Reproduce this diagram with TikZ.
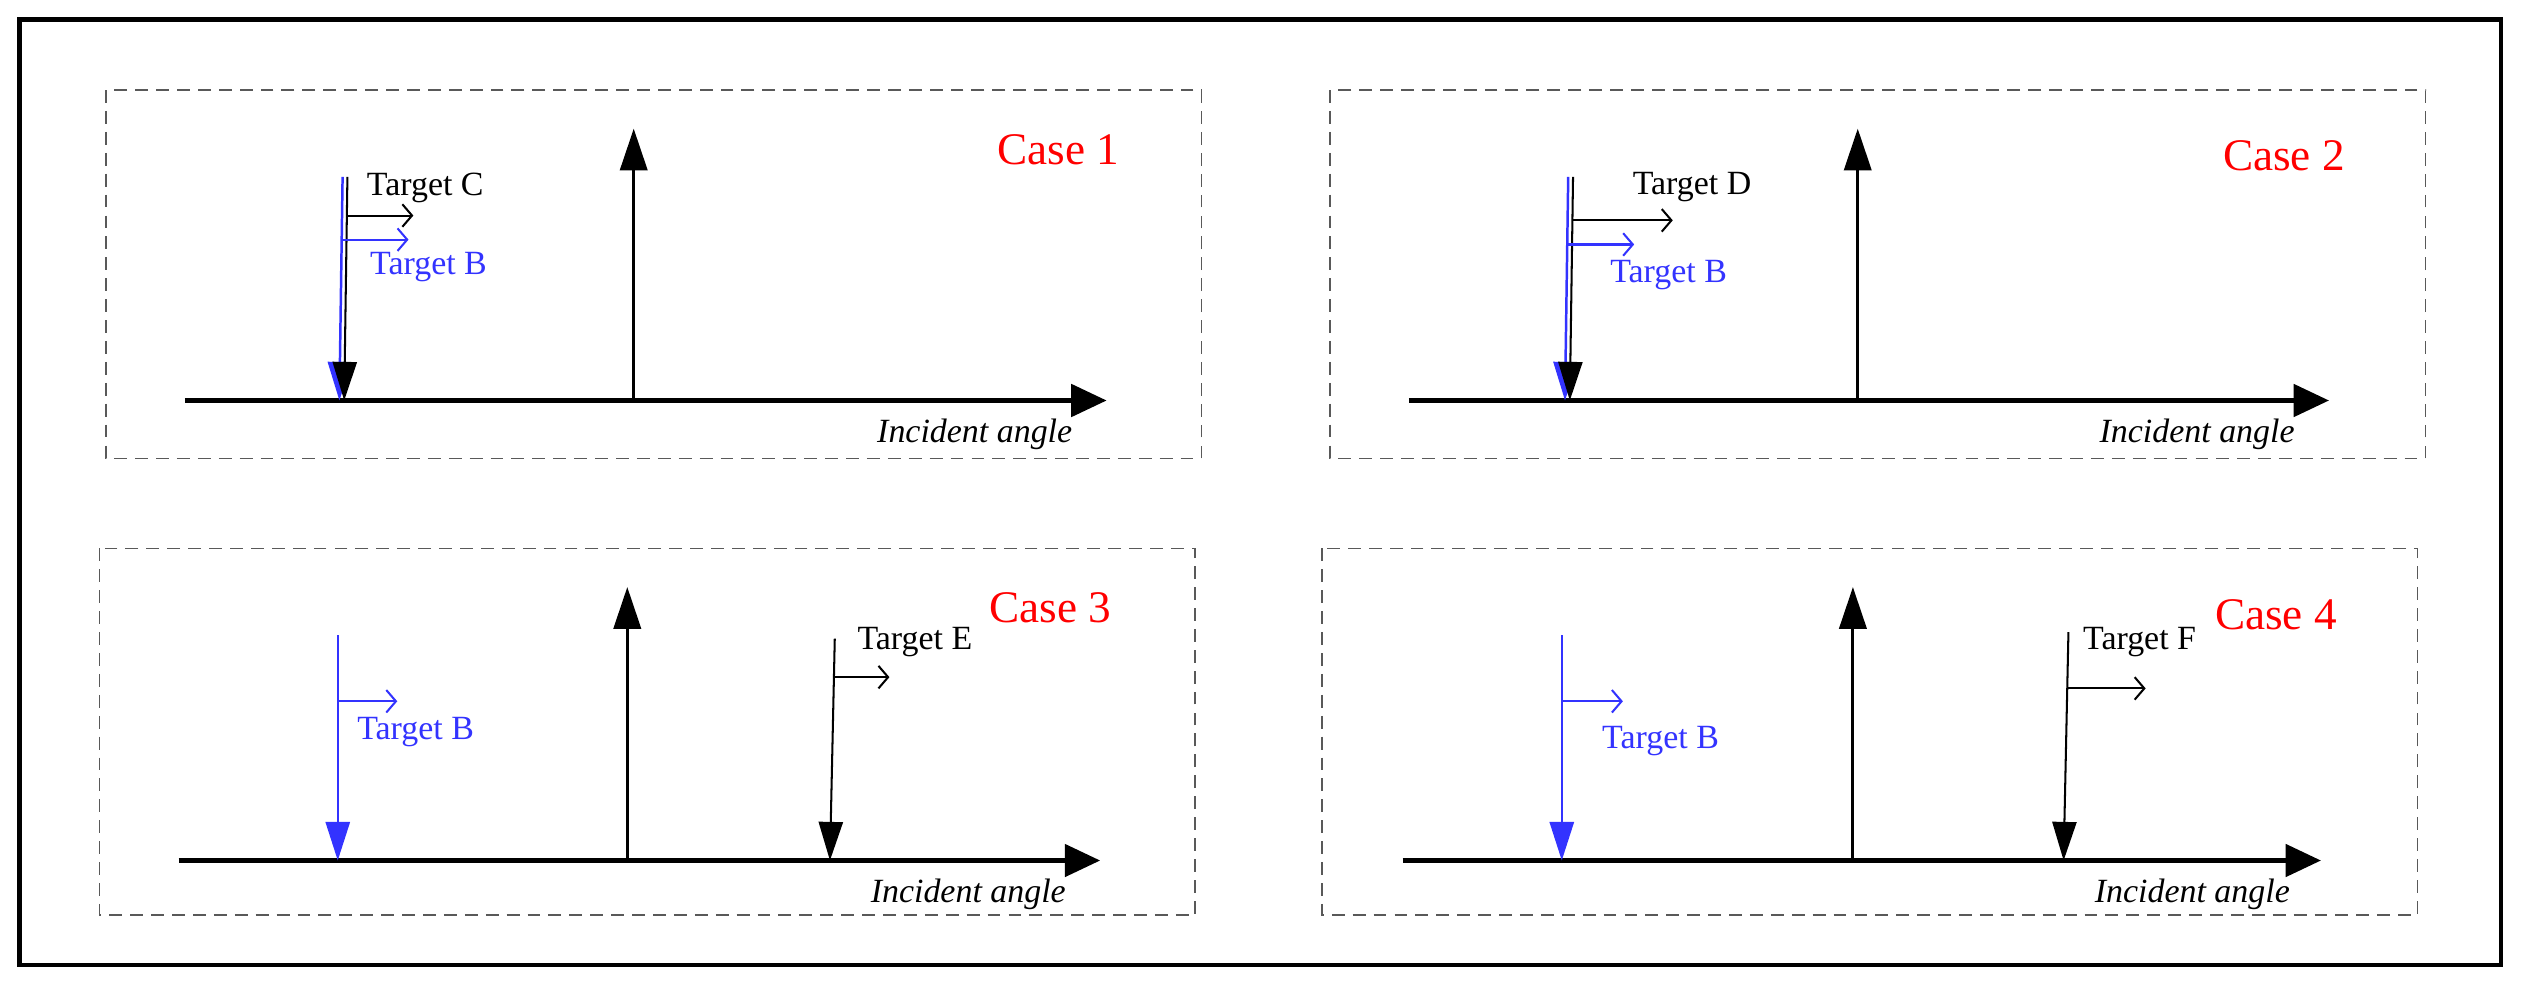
\documentclass[tikz,border=0pt]{standalone}
\usepackage{fontspec}
\setmainfont{Liberation Serif}
\usetikzlibrary{arrows.meta}
\begin{document}
\begin{tikzpicture}[x=0.5mm,y=-0.5mm,
  panel/.style={draw=black!65,dash pattern=on 4mm off 2.5mm,line width=1.3pt},
  axis/.style={line width=4pt,-{Triangle[length=11mm,width=10mm]}},
  up/.style={line width=2.6pt,-{Triangle[length=13mm,width=8.5mm]}},
  down/.style={line width=1.8pt,-{Triangle[length=12mm,width=7.5mm]}},
  bdown/.style={down,line width=2.2pt,draw=blue!80,fill=blue!80},
  mv/.style={line width=1.8pt,-{Straight Barb[length=3mm,width=7mm]}},
  bmv/.style={mv,blue!80},
  lbl/.style={anchor=west,inner sep=0pt,font=\fontsize{30}{30}\selectfont},
  blbl/.style={lbl,text=blue!80},
  case/.style={inner sep=0pt,text=red,font=\fontsize{40}{40}\selectfont},
  ang/.style={inner sep=0pt,font=\itshape\fontsize{30}{30}\selectfont}]
\useasboundingbox (0,0) rectangle (1568,613);
\draw[line width=4pt] (12,12) rectangle (1555,600);
% Panel 1
\draw[panel] (66,56) rectangle (747,285);
\coordinate (a1s) at (115,249); \coordinate (a1e) at (688,249);
\draw[axis] (a1s) -- (a1e);
\coordinate (u1b) at (394,249); \coordinate (u1t) at (394,80);
\draw[up] (u1b) -- (u1t);
\coordinate (b1t) at (213,110); \coordinate (b1b) at (211,249);
\coordinate (c1t) at (216,110); \coordinate (c1b) at (214,249);
\draw[bdown] (b1t) -- (b1b);
\draw[down] (c1t) -- (c1b);
\coordinate (c1m) at (216,134); \coordinate (c1r) at (257,134);
\draw[mv] (c1m) -- (c1r);
\coordinate (b1m) at (213,149); \coordinate (b1r) at (254,149);
\draw[bmv] (b1m) -- (b1r);
\node[lbl] (tc) at (228,117) {Target C};
\node[blbl] (tb1) at (230,166) {Target B};
\node[case] (k1) at (658,93) {Case 1};
\node[ang] (i1) at (606,270) {Incident angle};
% Panel 2
\draw[panel] (827,56) rectangle (1508,285);
\coordinate (a2s) at (876,249); \coordinate (a2e) at (1448,249);
\draw[axis] (a2s) -- (a2e);
\coordinate (u2b) at (1155,249); \coordinate (u2t) at (1155,80);
\draw[up] (u2b) -- (u2t);
\coordinate (b2t) at (975,110); \coordinate (b2b) at (973,249);
\coordinate (c2t) at (978,110); \coordinate (c2b) at (976,249);
\draw[bdown] (b2t) -- (b2b);
\draw[down] (c2t) -- (c2b);
\coordinate (c2m) at (978,137); \coordinate (c2r) at (1040,137);
\draw[mv] (c2m) -- (c2r);
\coordinate (b2m) at (975,152); \coordinate (b2r) at (1016,152);
\draw[bmv] (b2m) -- (b2r);
\node[lbl] (td) at (1015,116) {Target D};
\node[blbl] (tb2) at (1001,171) {Target B};
\node[case] (k2) at (1420,97) {Case 2};
\node[ang] (i2) at (1366,270) {Incident angle};
% Panel 3
\draw[panel] (62,341) rectangle (743,569);
\coordinate (a3s) at (111,535); \coordinate (a3e) at (684,535);
\draw[axis] (a3s) -- (a3e);
\coordinate (u3b) at (390,535); \coordinate (u3t) at (390,365);
\draw[up] (u3b) -- (u3t);
\coordinate (b3t) at (210,395); \coordinate (b3b) at (210,535);
\draw[bdown] (b3t) -- (b3b);
\coordinate (b3m) at (210,436); \coordinate (b3r) at (247,436);
\draw[bmv] (b3m) -- (b3r);
\coordinate (e3t) at (519,397); \coordinate (e3b) at (516,535);
\draw[down] (e3t) -- (e3b);
\coordinate (e3m) at (518,421); \coordinate (e3r) at (553,421);
\draw[mv] (e3m) -- (e3r);
\node[blbl] (tb3) at (222,455) {Target B};
\node[lbl] (te) at (533,399) {Target E};
\node[case] (k3) at (653,378) {Case 3};
\node[ang] (i3) at (602,556) {Incident angle};
% Panel 4
\draw[panel] (822,341) rectangle (1503,569);
\coordinate (a4s) at (872,535); \coordinate (a4e) at (1443,535);
\draw[axis] (a4s) -- (a4e);
\coordinate (u4b) at (1152,535); \coordinate (u4t) at (1152,365);
\draw[up] (u4b) -- (u4t);
\coordinate (b4t) at (971,395); \coordinate (b4b) at (971,535);
\draw[bdown] (b4t) -- (b4b);
\coordinate (b4m) at (971,436); \coordinate (b4r) at (1009,436);
\draw[bmv] (b4m) -- (b4r);
\coordinate (f4t) at (1286,393); \coordinate (f4b) at (1283,535);
\draw[down] (f4t) -- (f4b);
\coordinate (f4m) at (1286,428); \coordinate (f4r) at (1334,428);
\draw[mv] (f4m) -- (f4r);
\node[blbl] (tb4) at (996,461) {Target B};
\node[lbl] (tf) at (1295,399) {Target F};
\node[case] (k4) at (1415,382) {Case 4};
\node[ang] (i4) at (1363,556) {Incident angle};
\end{tikzpicture}
\end{document}
